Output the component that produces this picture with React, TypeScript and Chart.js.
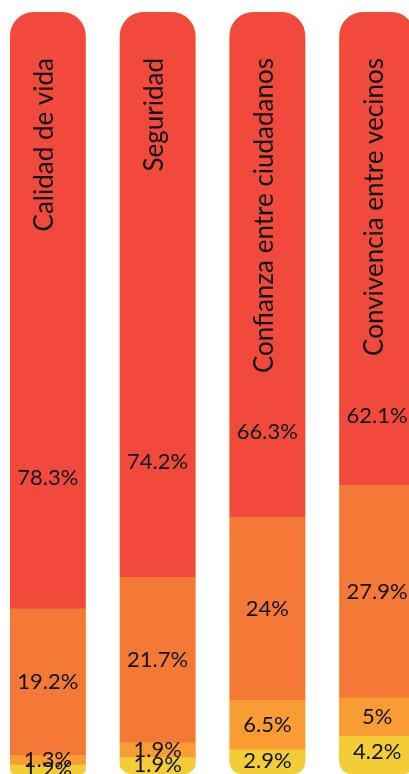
import React, { useEffect, useRef } from "react";
import { Chart, registerables } from "chart.js";

Chart.register(...registerables);

const categories = [
  "Calidad de vida",
  "Seguridad",
  "Confianza entre ciudadanos",
  "Convivencia entre vecinos",
];
const seriesNames = ["Mucho", "Bastante", "Poco", "Nada"];
const muchoValues = [78.3, 74.2, 66.3, 62.1];
const bastanteValues = [19.2, 21.7, 24, 27.9];
const pocoValues = [1.3, 1.9, 6.5, 5];
const nadaValues = [1.2, 1.9, 2.9, 4.2];

const colors = ["#F1493B", "#F47937", "#F89C33", "#F2CD37"];
const FONT = "Lato, 'Open Sans', sans-serif";

const labelPlugin = {
  id: "barDecor",
  beforeDatasetsDraw(chart: any) {
    const { ctx, chartArea } = chart;
    const meta = chart.getDatasetMeta(0);
    ctx.save();
    ctx.fillStyle = colors[3];
    meta.data.forEach((el: any) => {
      const { x, width } = el.getProps(["x", "width"], true);
      ctx.beginPath();
      (ctx as any).roundRect(x - width / 2, chartArea.top, width, chartArea.bottom - chartArea.top, [24, 24, 12, 12]);
      ctx.fill();
    });
    ctx.restore();
  },
  afterDatasetsDraw(chart: any) {
    const { ctx, chartArea } = chart;
    const yScale = chart.scales.y;
    ctx.save();
    ctx.fillStyle = "#111111";
    const meta0 = chart.getDatasetMeta(0);
    ctx.font = `26px ${FONT}`;
    meta0.data.forEach((el: any, i: number) => {
      const { x } = el.getProps(["x"], true);
      ctx.save();
      ctx.translate(x - 3, chartArea.top + 46);
      ctx.rotate(-Math.PI / 2);
      ctx.textAlign = "right";
      ctx.textBaseline = "middle";
      ctx.fillText(categories[i], 0, 0);
      ctx.restore();
    });
    ctx.font = `22px ${FONT}`;
    ctx.textAlign = "center";
    ctx.textBaseline = "middle";
    chart.data.datasets.forEach((ds: any, di: number) => {
      const meta = chart.getDatasetMeta(di);
      meta.data.forEach((el: any, i: number) => {
        const { x, y, base } = el.getProps(["x", "y", "base"], true);
        const top = Math.min(y, base);
        const bottom = Math.max(y, base);
        let cy = (top + bottom) / 2;
        if (di === 0) {
          cy = (yScale.getPixelForValue(44) + bottom) / 2;
        }
        ctx.fillText(`${ds.data[i]}%`, x, cy);
      });
    });
    ctx.restore();
  },
};

export default function App() {
  const canvasRef = useRef<HTMLCanvasElement | null>(null);

  useEffect(() => {
    let chart: Chart | null = null;
    let cancelled = false;
    const build = () => {
      if (cancelled || !canvasRef.current) return;
      chart = new Chart(canvasRef.current, {
        type: "bar",
        data: {
          labels: categories,
          datasets: [
            {
              label: seriesNames[0],
              data: muchoValues,
              backgroundColor: colors[0],
              borderSkipped: false,
              borderRadius: { topLeft: 24, topRight: 24, bottomLeft: 0, bottomRight: 0 },
            },
            {
              label: seriesNames[1],
              data: bastanteValues,
              backgroundColor: colors[1],
              borderSkipped: false,
              borderRadius: 0,
            },
            {
              label: seriesNames[2],
              data: pocoValues,
              backgroundColor: colors[2],
              borderSkipped: false,
              borderRadius: 0,
            },
            {
              label: seriesNames[3],
              data: nadaValues,
              backgroundColor: colors[3],
              borderSkipped: false,
              borderRadius: { topLeft: 0, topRight: 0, bottomLeft: 12, bottomRight: 12 },
            },
          ] as any,
        },
        options: {
          animation: false,
          responsive: true,
          maintainAspectRatio: false,
          layout: { padding: { top: 12, bottom: 0, left: 0, right: 0 } },
          datasets: {
            bar: { barPercentage: 0.69, categoryPercentage: 1 },
          } as any,
          plugins: {
            legend: { display: false },
            tooltip: { enabled: false },
          },
          scales: {
            x: { stacked: true, display: false },
            y: { stacked: true, display: false, min: 0, max: 100, reverse: true },
          },
        },
        plugins: [labelPlugin],
      });
    };
    const fontsApi = (document as any).fonts;
    if (fontsApi && fontsApi.load) {
      Promise.all([fontsApi.load(`22px Lato`), fontsApi.load(`26px Lato`)])
        .catch(() => null)
        .then(build);
    } else {
      build();
    }
    return () => {
      cancelled = true;
      if (chart) chart.destroy();
    };
  }, []);

  return (
    <div
      style={{
        position: "fixed",
        left: 0,
        top: 0,
        width: 409,
        height: 774,
        overflow: "hidden",
        background: "#ffffff",
      }}
    >
      <div style={{ position: "absolute", left: -7, top: 0, width: 439, height: 774 }}>
        <canvas ref={canvasRef} />
      </div>
    </div>
  );
}
